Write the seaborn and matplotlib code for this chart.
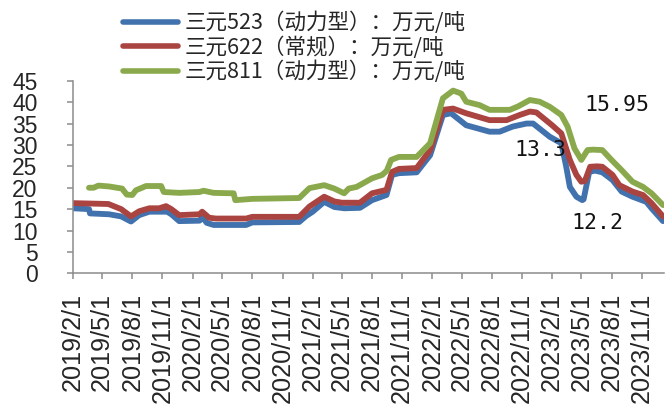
import matplotlib
matplotlib.use("Agg")
import matplotlib.pyplot as plt
import pandas as pd
import seaborn as sns

# ---------------------------------------------------
# Data
# ---------------------------------------------------
NCM523_DATES = [
    "2019-02-01", "2019-03-22", "2019-03-25", "2019-05-22", "2019-06-28",
    "2019-07-28", "2019-08-22", "2019-09-22", "2019-11-15", "2019-11-28",
    "2019-12-22", "2020-02-22", "2020-03-01", "2020-03-15", "2020-04-05",
    "2020-07-13", "2020-08-01", "2020-12-22", "2021-01-12", "2021-02-01",
    "2021-03-08", "2021-04-08", "2021-05-08", "2021-06-25", "2021-08-01",
    "2021-09-14", "2021-10-01", "2021-10-22", "2021-12-15", "2022-01-25",
    "2022-03-05", "2022-03-30", "2022-05-15", "2022-07-25", "2022-08-25",
    "2022-10-04", "2022-11-15", "2022-12-05", "2023-01-25", "2023-03-01",
    "2023-03-16", "2023-03-27", "2023-04-16", "2023-05-04", "2023-05-08",
    "2023-05-25", "2023-06-12", "2023-07-04", "2023-08-04", "2023-09-01",
    "2023-10-04", "2023-11-15", "2023-12-01", "2024-01-05",
]
NCM523_VALUES = [
    15.2, 15.0, 14.0, 13.8, 13.3,
    12.1, 13.6, 14.4, 14.4, 13.8,
    12.2, 12.3, 13.2, 11.8, 11.3,
    11.3, 11.9, 12.0, 13.4, 14.4,
    16.7, 15.5, 15.2, 15.3, 17.1,
    18.3, 23.0, 23.4, 23.6, 27.6,
    37.0, 37.4, 34.6, 33.1, 33.1,
    34.3, 35.0, 35.0, 31.9, 30.4,
    24.9, 20.2, 17.9, 17.1, 17.3,
    23.7, 24.0, 23.6, 21.8, 19.1,
    17.9, 16.7, 15.2, 12.2,
]

NCM622_DATES = [
    "2019-02-01", "2019-05-20", "2019-06-28", "2019-07-28", "2019-08-22",
    "2019-09-22", "2019-10-22", "2019-11-12", "2019-11-28", "2019-12-22",
    "2020-02-22", "2020-03-01", "2020-03-22", "2020-04-12", "2020-07-13",
    "2020-08-01", "2020-12-22", "2021-01-22", "2021-03-08", "2021-04-08",
    "2021-05-01", "2021-06-25", "2021-08-01", "2021-09-14", "2021-10-01",
    "2021-10-22", "2021-12-15", "2022-01-25", "2022-03-05", "2022-04-05",
    "2022-05-15", "2022-07-25", "2022-09-15", "2022-10-25", "2022-11-25",
    "2022-12-15", "2023-02-01", "2023-03-01", "2023-03-27", "2023-04-16",
    "2023-05-01", "2023-05-12", "2023-05-28", "2023-06-18", "2023-07-04",
    "2023-08-04", "2023-08-25", "2023-10-04", "2023-11-05", "2023-12-01",
    "2024-01-05",
]
NCM622_VALUES = [
    16.4, 16.2, 15.0, 13.3, 14.5,
    15.2, 15.2, 15.7, 15.0, 13.6,
    13.8, 14.4, 13.0, 12.8, 12.8,
    13.2, 13.2, 15.6, 17.9, 16.8,
    16.5, 16.5, 18.7, 19.5, 23.7,
    24.4, 24.6, 28.8, 38.2, 38.5,
    37.4, 35.8, 35.8, 37.0, 37.8,
    37.6, 34.6, 32.7, 26.5, 23.0,
    21.4, 21.6, 24.9, 25.0, 24.9,
    23.0, 20.6, 19.1, 18.3, 16.4,
    13.3,
]

NCM811_DATES = [
    "2019-03-22", "2019-04-05", "2019-04-20", "2019-05-22", "2019-07-01",
    "2019-07-15", "2019-08-01", "2019-08-12", "2019-09-12", "2019-10-28",
    "2019-11-05", "2019-12-22", "2020-02-22", "2020-03-05", "2020-04-05",
    "2020-06-05", "2020-06-10", "2020-08-01", "2020-12-22", "2021-01-22",
    "2021-03-08", "2021-04-08", "2021-05-08", "2021-05-22", "2021-06-15",
    "2021-08-01", "2021-09-01", "2021-09-15", "2021-09-28", "2021-10-22",
    "2021-12-15", "2022-01-25", "2022-03-05", "2022-04-05", "2022-04-30",
    "2022-05-15", "2022-06-25", "2022-07-25", "2022-09-25", "2022-10-20",
    "2022-11-25", "2022-12-25", "2023-01-25", "2023-03-01", "2023-03-20",
    "2023-04-10", "2023-05-01", "2023-05-20", "2023-06-05", "2023-07-04",
    "2023-08-01", "2023-09-01", "2023-10-04", "2023-11-05", "2023-12-01",
    "2024-01-05",
]
NCM811_VALUES = [
    20.0, 20.0, 20.5, 20.3, 19.8,
    18.4, 18.3, 19.4, 20.4, 20.4,
    19.0, 18.8, 19.0, 19.3, 18.8,
    18.7, 17.1, 17.4, 17.6, 19.9,
    20.6, 19.8, 18.7, 19.8, 20.2,
    22.2, 23.0, 24.0, 26.5, 27.2,
    27.2, 30.4, 40.9, 42.7, 42.0,
    40.1, 39.3, 38.2, 38.2, 39.0,
    40.5, 40.1, 38.9, 37.0, 34.3,
    29.2, 26.5, 28.8, 28.9, 28.8,
    26.5, 24.1, 21.4, 20.2, 18.7,
    15.95,
]

SERIES_NAMES = [
    "三元523（动力型）：万元/吨",
    "三元622（常规）：万元/吨",
    "三元811（动力型）：万元/吨",
]
SERIES_COLORS = ["#4272AE", "#AA4441", "#8AA94C"]

TICK_DATES = pd.date_range("2019-02-01", "2023-11-01", freq="3MS")
TICK_LABELS = [f"{d.year}/{d.month}/1" for d in TICK_DATES]
Y_TICKS = list(range(0, 50, 5))

# (text, date, value) for the end-value labels
ANNOTATIONS = [
    ("15.95", "2023-05-10", 39.3),
    ("13.3", "2022-10-10", 28.8),
    ("12.2", "2023-04-01", 11.75),
]

# ---------------------------------------------------
# Build long-form table
# ---------------------------------------------------
frames = []
for name, dates, values in zip(
    SERIES_NAMES,
    [NCM523_DATES, NCM622_DATES, NCM811_DATES],
    [NCM523_VALUES, NCM622_VALUES, NCM811_VALUES],
):
    frames.append(
        pd.DataFrame({"date": pd.to_datetime(dates), "value": values, "series": name})
    )
df = pd.concat(frames, ignore_index=True)

# ---------------------------------------------------
# Plot
# ---------------------------------------------------
sns.set_style("ticks")
plt.rcParams["font.family"] = ["Liberation Sans", "Noto Sans CJK SC", "DejaVu Sans"]

fig = plt.figure(figsize=(6.69, 4.12), dpi=100)
ax = fig.add_axes([0.109, 0.3366, 0.8835, 0.4674])

sns.lineplot(
    data=df,
    x="date",
    y="value",
    hue="series",
    hue_order=SERIES_NAMES,
    palette=SERIES_COLORS,
    linewidth=4.2,
    estimator=None,
    sort=False,
    ax=ax,
)

ax.set_xlim(pd.Timestamp("2019-02-01"), pd.Timestamp("2024-01-08"))
ax.set_ylim(0, 45)
ax.set_yticks(Y_TICKS)
ax.set_xticks(TICK_DATES)
ax.set_xticklabels(TICK_LABELS, rotation=90, fontsize=18.2)
ax.tick_params(axis="y", labelsize=16.5, pad=21, length=4.5, width=1.1, color="#8C8C8C")
ax.tick_params(axis="x", pad=10, length=4, width=1.1, color="#8C8C8C")
ax.set_xlabel("")
ax.set_ylabel("")

for side in ["top", "right"]:
    ax.spines[side].set_visible(False)
for side in ["left", "bottom"]:
    ax.spines[side].set_color("#8C8C8C")
    ax.spines[side].set_linewidth(1.1)

for text, date, value in ANNOTATIONS:
    ax.text(
        pd.Timestamp(date),
        value,
        text,
        fontsize=15.5,
        family=["DejaVu Sans Mono"],
        ha="left",
        va="center",
        color="#111111",
    )

handles, labels = ax.get_legend_handles_labels()
ax.legend_.remove()
leg = fig.legend(
    handles,
    labels,
    loc="upper left",
    bbox_to_anchor=(0.184, 0.972),
    frameon=False,
    prop={"family": ["Noto Sans CJK SC", "DejaVu Sans"], "size": 15.5},
    handlelength=2.55,
    handletextpad=0.3,
    labelspacing=0.1,
    borderpad=0,
    borderaxespad=0,
)
for line in leg.get_lines():
    line.set_linewidth(4.0)

fig.savefig("out.png", dpi=100)
plt.close(fig)
